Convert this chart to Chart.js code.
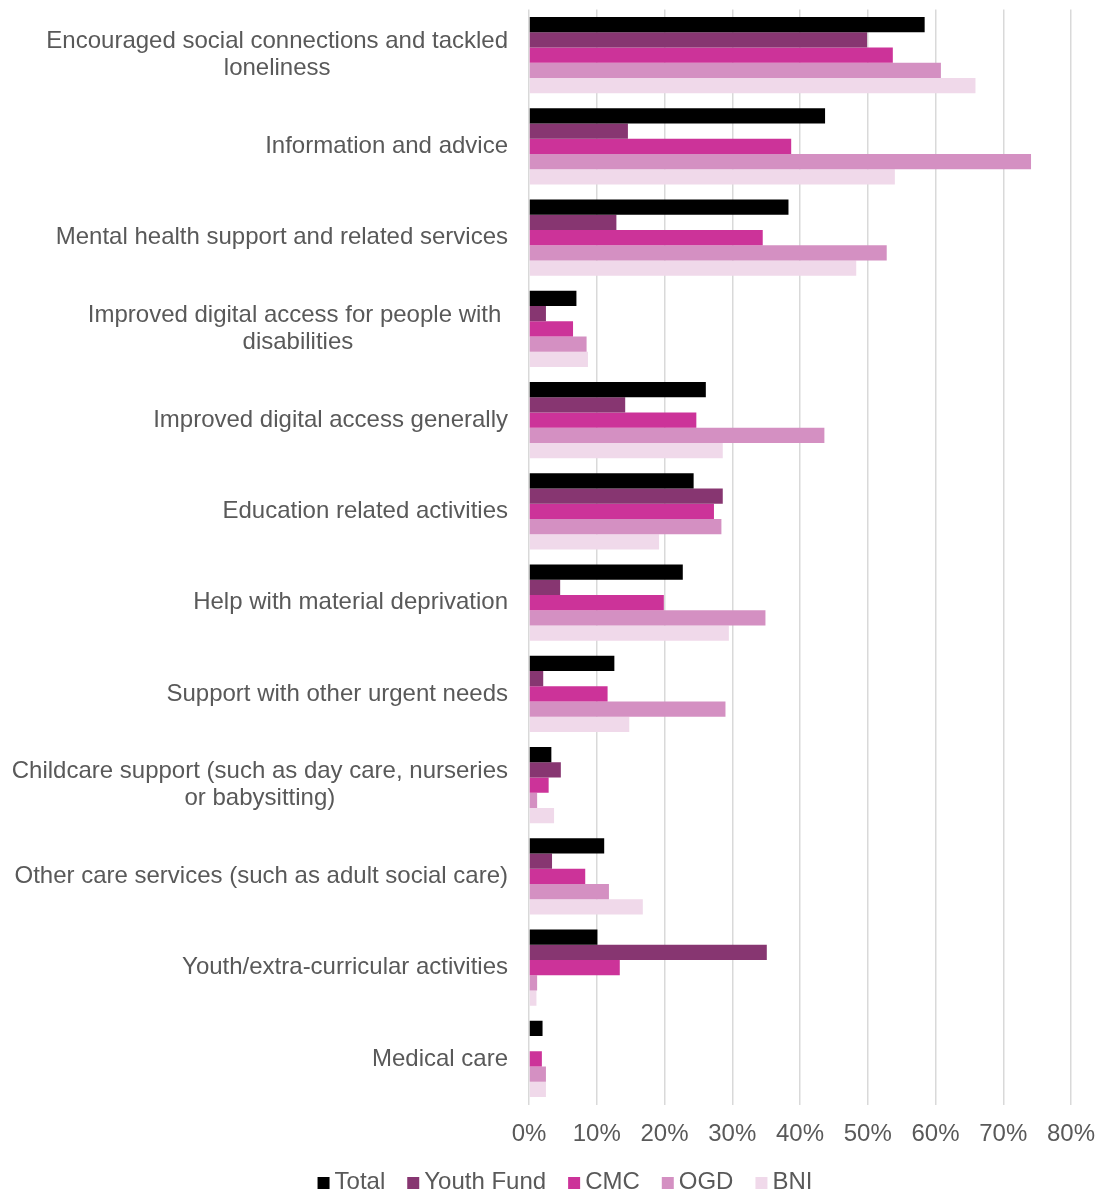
<!DOCTYPE html>
<html>
<head>
<meta charset="utf-8">
<script src="https://cdn.jsdelivr.net/npm/chart.js@4"></script>
<style>
  html, body { margin: 0; padding: 0; background: #ffffff; }
  #wrap { width: 1099px; height: 1193px; position: relative; }
</style>
</head>
<body>
<div id="wrap"><canvas id="chart"></canvas></div>
<script>
// Categories (multi-line labels given as arrays of lines)
const categories = [
  ['Encouraged social connections and tackled', 'loneliness'],
  'Information and advice',
  'Mental health support and related services',
  ['Improved digital access for people with ', 'disabilities'],
  'Improved digital access generally',
  'Education related activities',
  'Help with material deprivation',
  'Support with other urgent needs',
  ['Childcare support (such as day care, nurseries', 'or babysitting)'],
  'Other care services (such as adult social care)',
  'Youth/extra-curricular activities',
  'Medical care'
];

// Share of respondents (%) per series
const totalValues      = [58.4, 43.7, 38.3, 7.0, 26.1, 24.3, 22.7, 12.6, 3.3, 11.1, 10.1, 2.0];
const youthFundValues  = [49.9, 14.6, 12.9, 2.5, 14.2, 28.6, 4.6, 2.1, 4.7, 3.4, 35.1, 0];
const cmcValues        = [53.7, 38.7, 34.5, 6.5, 24.7, 27.3, 19.9, 11.6, 2.9, 8.3, 13.4, 1.9];
const ogdValues        = [60.8, 74.1, 52.8, 8.5, 43.6, 28.4, 34.9, 29.0, 1.2, 11.8, 1.2, 2.5];
const bniValues        = [65.9, 54.0, 48.3, 8.7, 28.6, 19.2, 29.5, 14.8, 3.7, 16.8, 1.1, 2.5];

const seriesNames = ['Total', 'Youth Fund', 'CMC', 'OGD', 'BNI'];
const xTicks = [0, 10, 20, 30, 40, 50, 60, 70, 80];

const seriesColors = ['#000000', '#873671', '#CC3399', '#D490C2', '#F0D9EA'];
const seriesValues = [totalValues, youthFundValues, cmcValues, ogdValues, bniValues];

const TEXT_COLOR = '#595959';
const FONT_FAMILY = "'Liberation Sans', Arial, sans-serif";
const FONT_SIZE = 24;

Chart.defaults.font.family = FONT_FAMILY;
Chart.defaults.font.size = FONT_SIZE;
Chart.defaults.color = TEXT_COLOR;

// Category labels: each block right-aligned to the axis, lines of a
// multi-line label centred on one another. Also draws the legend row.
const labelsAndLegend = {
  id: 'labelsAndLegend',
  afterDraw(chart) {
    const ctx = chart.ctx;
    const yScale = chart.scales.y;
    const right = chart.chartArea.left - 21;
    const lineHeight = 27;
    ctx.save();
    ctx.font = FONT_SIZE + 'px ' + FONT_FAMILY;
    ctx.fillStyle = TEXT_COLOR;
    ctx.textAlign = 'center';
    ctx.textBaseline = 'middle';
    categories.forEach((label, i) => {
      const lines = Array.isArray(label) ? label : [label];
      const widest = Math.max(...lines.map(l => ctx.measureText(l).width));
      const cx = right - widest / 2;
      const cy = yScale.getPixelForValue(i);
      lines.forEach((line, j) => {
        ctx.fillText(line, cx, cy + (j - (lines.length - 1) / 2) * lineHeight);
      });
    });

    // Legend row
    const box = 12, boxGap = 5, itemGap = 22, legendY = 1182, legendCenter = 565;
    const widths = chart.data.datasets.map(ds => box + boxGap + ctx.measureText(ds.label).width);
    const total = widths.reduce((a, b) => a + b, 0) + itemGap * (widths.length - 1);
    let x = legendCenter - total / 2;
    ctx.textAlign = 'left';
    chart.data.datasets.forEach((ds, k) => {
      ctx.fillStyle = ds.backgroundColor;
      ctx.fillRect(x, legendY - box / 2 + 1, box, box);
      ctx.fillStyle = TEXT_COLOR;
      ctx.fillText(ds.label, x + box + boxGap, legendY);
      x += widths[k] + itemGap;
    });
    ctx.restore();
  }
};

new Chart(document.getElementById('chart'), {
  type: 'bar',
  data: {
    labels: categories,
    datasets: seriesNames.map((name, k) => ({
      label: name,
      data: seriesValues[k],
      backgroundColor: seriesColors[k],
      borderWidth: 0,
      categoryPercentage: 0.835,
      barPercentage: 1.0
    }))
  },
  options: {
    indexAxis: 'y',
    responsive: true,
    maintainAspectRatio: false,
    animation: false,
    layout: { padding: { left: 57, right: 28, top: 9.5, bottom: 28.7 } },
    scales: {
      x: {
        min: 0,
        max: 80,
        afterBuildTicks(scale) { scale.ticks = xTicks.map(v => ({ value: v })); },
        afterFit(scale) { scale.paddingLeft = 0; scale.paddingRight = 0; },
        grid: { color: '#D9D9D9', lineWidth: 1.5, drawTicks: false },
        border: { display: false },
        ticks: { padding: 15.5, callback: v => v + '%', color: TEXT_COLOR }
      },
      y: {
        grid: { display: false },
        border: { display: false },
        ticks: { display: false },
        afterFit(scale) { scale.width = 472; }
      }
    },
    plugins: {
      legend: { display: false },
      tooltip: { enabled: false }
    }
  },
  plugins: [labelsAndLegend]
});
</script>
</body>
</html>
